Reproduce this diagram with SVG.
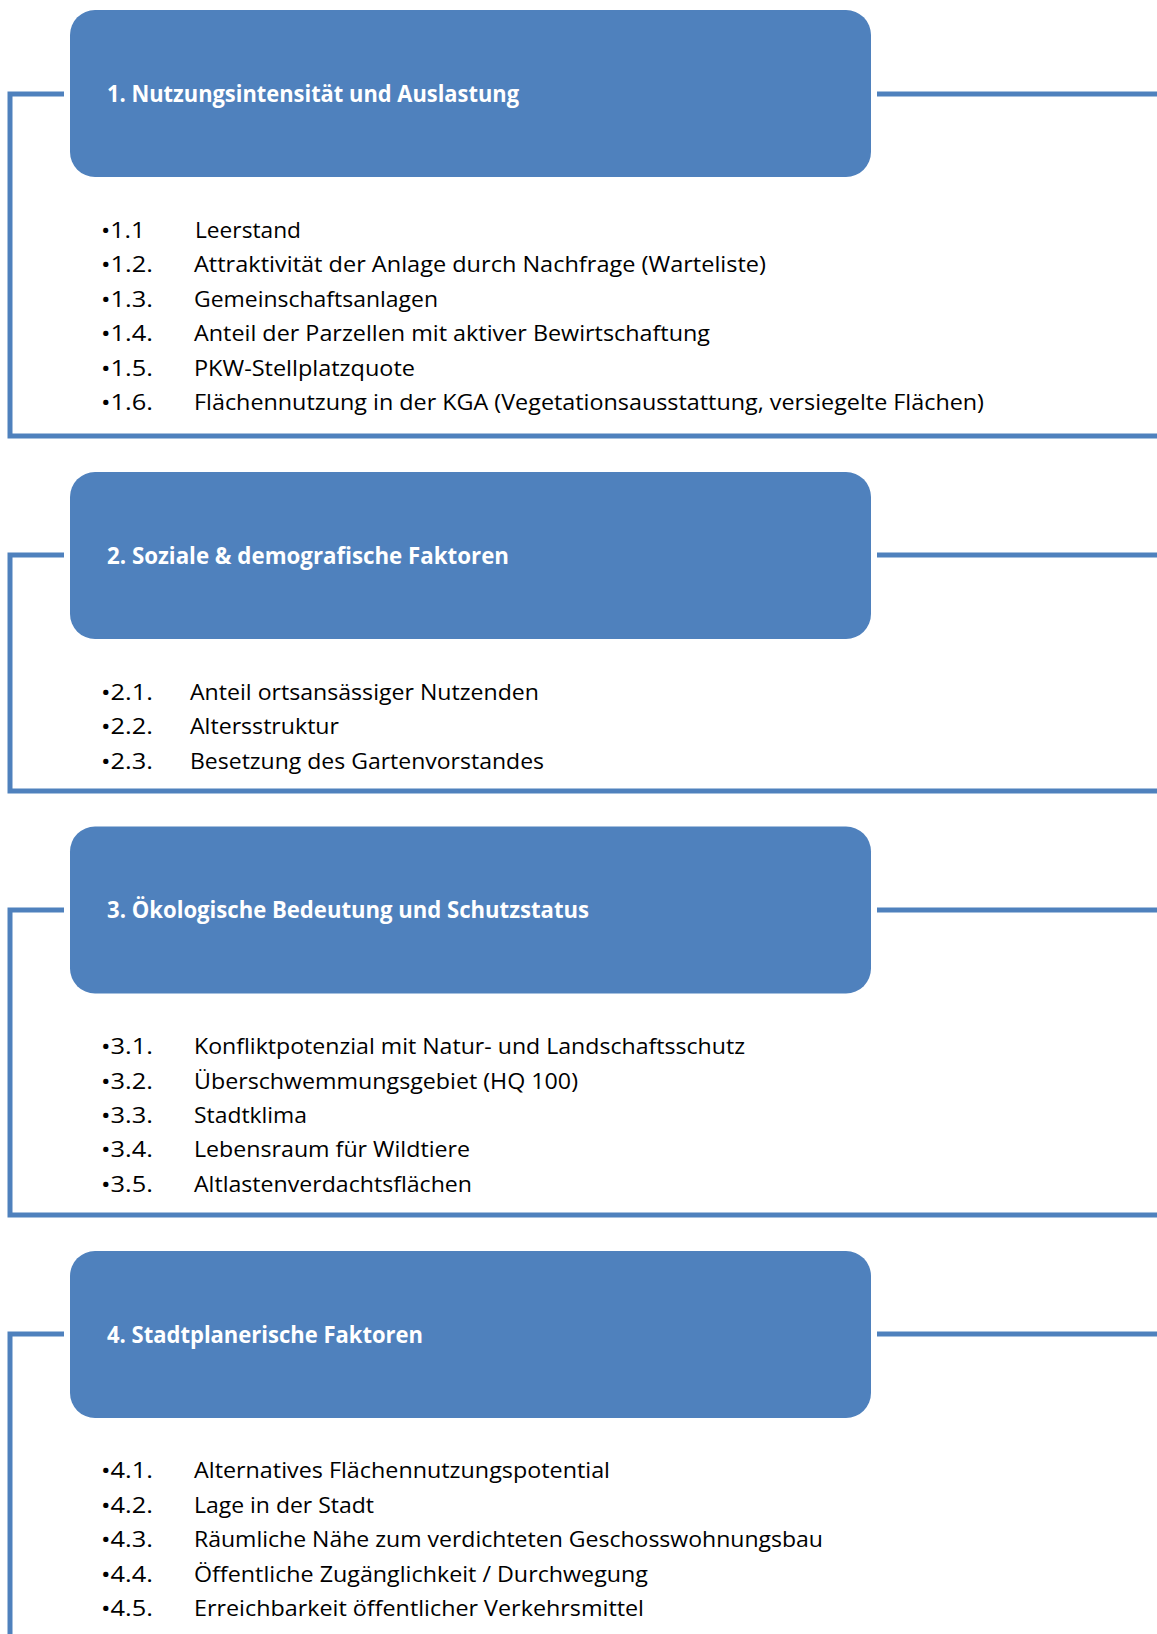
<svg xmlns="http://www.w3.org/2000/svg" width="1157" height="1634" viewBox="0 0 1157 1634">
<style>
.box{fill:#4F81BD;}
.ln{fill:none;stroke:#4F81BD;stroke-width:5;}
.t{font-family:"Open Sans","Liberation Sans",sans-serif;font-weight:bold;font-size:22.5px;fill:#FFFFFF;}
.n{font-family:"Open Sans","Liberation Sans",sans-serif;font-size:22px;fill:#000000;}
</style>
<rect width="1157" height="1634" fill="#FFFFFF"/>
<g id="connectors">
<path class="ln" d="M64 94 H10 V436 H1157"/>
<path class="ln" d="M877 94 H1157"/>
<path class="ln" d="M64 555 H10 V791 H1157"/>
<path class="ln" d="M877 555 H1157"/>
<path class="ln" d="M64 910 H10 V1215 H1157"/>
<path class="ln" d="M877 910 H1157"/>
<path class="ln" d="M64 1334 H10 V1634"/>
<path class="ln" d="M877 1334 H1157"/>
</g>
<g id="node1">
<rect class="box" x="70" y="10" width="801" height="167" rx="25"/>
<text class="t" x="107" y="101.5" textLength="412" lengthAdjust="spacingAndGlyphs">1. Nutzungsintensität und Auslastung</text>
</g>
<g id="list1">
<text class="n" x="101" y="238" textLength="44" lengthAdjust="spacingAndGlyphs">•1.1</text><text class="n" x="195" y="238" textLength="106" lengthAdjust="spacingAndGlyphs">Leerstand</text>
<text class="n" x="101" y="272.4" textLength="52" lengthAdjust="spacingAndGlyphs">•1.2.</text><text class="n" x="194" y="272.4" textLength="572" lengthAdjust="spacingAndGlyphs">Attraktivität der Anlage durch Nachfrage (Warteliste)</text>
<text class="n" x="101" y="306.8" textLength="52" lengthAdjust="spacingAndGlyphs">•1.3.</text><text class="n" x="194" y="306.8" textLength="244" lengthAdjust="spacingAndGlyphs">Gemeinschaftsanlagen</text>
<text class="n" x="101" y="341.2" textLength="52" lengthAdjust="spacingAndGlyphs">•1.4.</text><text class="n" x="194" y="341.2" textLength="516" lengthAdjust="spacingAndGlyphs">Anteil der Parzellen mit aktiver Bewirtschaftung</text>
<text class="n" x="101" y="375.6" textLength="52" lengthAdjust="spacingAndGlyphs">•1.5.</text><text class="n" x="194" y="375.6" textLength="221" lengthAdjust="spacingAndGlyphs">PKW-Stellplatzquote</text>
<text class="n" x="101" y="410" textLength="52" lengthAdjust="spacingAndGlyphs">•1.6.</text><text class="n" x="194" y="410" textLength="790" lengthAdjust="spacingAndGlyphs">Flächennutzung in der KGA (Vegetationsausstattung, versiegelte Flächen)</text>
</g>
<g id="node2">
<rect class="box" x="70" y="472" width="801" height="167" rx="25"/>
<text class="t" x="107" y="563.5" textLength="402" lengthAdjust="spacingAndGlyphs">2. Soziale &amp; demografische Faktoren</text>
</g>
<g id="list2">
<text class="n" x="101" y="699.5" textLength="52" lengthAdjust="spacingAndGlyphs">•2.1.</text><text class="n" x="190" y="699.5" textLength="349" lengthAdjust="spacingAndGlyphs">Anteil ortsansässiger Nutzenden</text>
<text class="n" x="101" y="734" textLength="52" lengthAdjust="spacingAndGlyphs">•2.2.</text><text class="n" x="190" y="734" textLength="149" lengthAdjust="spacingAndGlyphs">Altersstruktur</text>
<text class="n" x="101" y="768.5" textLength="52" lengthAdjust="spacingAndGlyphs">•2.3.</text><text class="n" x="190" y="768.5" textLength="354" lengthAdjust="spacingAndGlyphs">Besetzung des Gartenvorstandes</text>
</g>
<g id="node3">
<rect class="box" x="70" y="826.5" width="801" height="167" rx="25"/>
<text class="t" x="107" y="918" textLength="482" lengthAdjust="spacingAndGlyphs">3. Ökologische Bedeutung und Schutzstatus</text>
</g>
<g id="list3">
<text class="n" x="101" y="1054" textLength="52" lengthAdjust="spacingAndGlyphs">•3.1.</text><text class="n" x="194" y="1054" textLength="551" lengthAdjust="spacingAndGlyphs">Konfliktpotenzial mit Natur- und Landschaftsschutz</text>
<text class="n" x="101" y="1088.5" textLength="52" lengthAdjust="spacingAndGlyphs">•3.2.</text><text class="n" x="194" y="1088.5" textLength="384" lengthAdjust="spacingAndGlyphs">Überschwemmungsgebiet (HQ 100)</text>
<text class="n" x="101" y="1122.8" textLength="52" lengthAdjust="spacingAndGlyphs">•3.3.</text><text class="n" x="194" y="1122.8" textLength="113" lengthAdjust="spacingAndGlyphs">Stadtklima</text>
<text class="n" x="101" y="1157.2" textLength="52" lengthAdjust="spacingAndGlyphs">•3.4.</text><text class="n" x="194" y="1157.2" textLength="276" lengthAdjust="spacingAndGlyphs">Lebensraum für Wildtiere</text>
<text class="n" x="101" y="1191.5" textLength="52" lengthAdjust="spacingAndGlyphs">•3.5.</text><text class="n" x="194" y="1191.5" textLength="278" lengthAdjust="spacingAndGlyphs">Altlastenverdachtsflächen</text>
</g>
<g id="node4">
<rect class="box" x="70" y="1251" width="801" height="167" rx="25"/>
<text class="t" x="107" y="1342.5" textLength="316" lengthAdjust="spacingAndGlyphs">4. Stadtplanerische Faktoren</text>
</g>
<g id="list4">
<text class="n" x="101" y="1478" textLength="52" lengthAdjust="spacingAndGlyphs">•4.1.</text><text class="n" x="194" y="1478" textLength="416" lengthAdjust="spacingAndGlyphs">Alternatives Flächennutzungspotential</text>
<text class="n" x="101" y="1512.5" textLength="52" lengthAdjust="spacingAndGlyphs">•4.2.</text><text class="n" x="194" y="1512.5" textLength="180" lengthAdjust="spacingAndGlyphs">Lage in der Stadt</text>
<text class="n" x="101" y="1547" textLength="52" lengthAdjust="spacingAndGlyphs">•4.3.</text><text class="n" x="194" y="1547" textLength="629" lengthAdjust="spacingAndGlyphs">Räumliche Nähe zum verdichteten Geschosswohnungsbau</text>
<text class="n" x="101" y="1581.5" textLength="52" lengthAdjust="spacingAndGlyphs">•4.4.</text><text class="n" x="194" y="1581.5" textLength="454" lengthAdjust="spacingAndGlyphs">Öffentliche Zugänglichkeit / Durchwegung</text>
<text class="n" x="101" y="1616" textLength="52" lengthAdjust="spacingAndGlyphs">•4.5.</text><text class="n" x="194" y="1616" textLength="450" lengthAdjust="spacingAndGlyphs">Erreichbarkeit öffentlicher Verkehrsmittel</text>
</g>
</svg>
